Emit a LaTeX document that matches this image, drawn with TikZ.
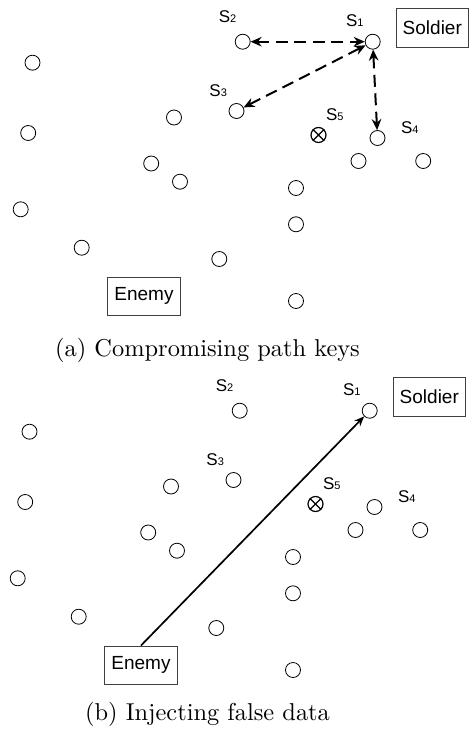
\documentclass[tikz,border=0pt]{standalone}
\usepackage{fontspec}
\usepackage{graphicx}
\newfontfamily\arialfont{Liberation Sans}
\usetikzlibrary{arrows.meta}

\tikzset{
  sensor/.style={circle, draw, line width=0.8pt, minimum size=15pt, inner sep=0pt},
  party/.style={draw=black!75, line width=0.9pt, minimum width=72.5pt, minimum height=38.5pt,
                inner sep=0pt, font=\arialfont\fontsize{19}{22}\selectfont},
  slabel/.style={font=\arialfont\fontsize{17}{20}\selectfont, inner sep=0pt},
  keylink/.style={line width=2pt, dash pattern=on 12pt off 6.5pt,
                  arrows={Stealth[length=11pt,width=9.5pt]-Stealth[length=11pt,width=9.5pt]}},
  inject/.style={line width=1.7pt, arrows={-Stealth[length=10pt,width=8pt]}},
  caption/.style={anchor=base, inner sep=0pt}
}

% sensor name: S with a small index digit
\newcommand\sname[1]{S{\fontsize{11}{12}\selectfont #1}}

% the sensor field, soldier and enemy; #1 prefixes every node name
\newcommand\sensorfield[1]{%
  \node[sensor] (#1s1) at (372.7,41.7) {};
  \node[sensor] (#1s2) at (242.7,41.7) {};
  \node[sensor] (#1s3) at (236.5,111) {};
  \node[sensor, line width=1.2pt] (#1s5) at (318.5,135) {};
  \draw[line width=1.3pt] (#1s5.45) -- (#1s5.225) (#1s5.135) -- (#1s5.315);
  \node[sensor] (#1s4) at (377.5,138) {};
  \node[sensor] (#1n1) at (358.5,161) {};
  \node[sensor] (#1n2) at (423.2,161) {};
  \node[sensor] (#1n3) at (32.5,62.7) {};
  \node[sensor] (#1n4) at (28.2,133) {};
  \node[sensor] (#1n5) at (174,117.5) {};
  \node[sensor] (#1n6) at (151.2,163.5) {};
  \node[sensor] (#1n7) at (180,181.7) {};
  \node[sensor] (#1n8) at (296,188) {};
  \node[sensor] (#1n9) at (20.7,209.3) {};
  \node[sensor] (#1n10) at (296,224.3) {};
  \node[sensor] (#1n11) at (81.7,247.7) {};
  \node[sensor] (#1n12) at (219.3,259) {};
  \node[sensor] (#1n13) at (296,301) {};
  \node[slabel] (#1l1) at (354.8,20.5) {\sname{1}};
  \node[slabel] (#1l2) at (227.5,17) {\sname{2}};
  \node[slabel] (#1l3) at (218.2,91) {\sname{3}};
  \node[slabel] (#1l5) at (334.8,114.6) {\sname{5}};
  \node[slabel] (#1l4) at (409.8,128) {\sname{4}};
  \node[party] (#1soldier) at (432.3,27.7) {Soldier};
  \node[party] (#1enemy) at (144,296.2) {Enemy};
}

\begin{document}
\begin{tikzpicture}[x=1pt, y=-1pt]
  \useasboundingbox (0,0) rectangle (470,734);

  % (a) compromised path keys
  \sensorfield{a}
  \draw[keylink] (as2) -- (as1);
  \draw[keylink] (as3) -- (as1);
  \draw[keylink] (as1) -- (as4);
  \node[caption] (capa) at (207.5,356)
    {\scalebox{2.44}{\fontsize{10}{12}\selectfont (a) Compromising path keys}};

  % (b) false data injected towards the soldier
  \begin{scope}[shift={(-3,369)}]
    \sensorfield{b}
  \end{scope}
  \draw[inject] (benemy.north) -- (bs1);
  \node[caption] (capb) at (207.5,720)
    {\scalebox{2.44}{\fontsize{10}{12}\selectfont (b) Injecting false data}};
\end{tikzpicture}
\end{document}
